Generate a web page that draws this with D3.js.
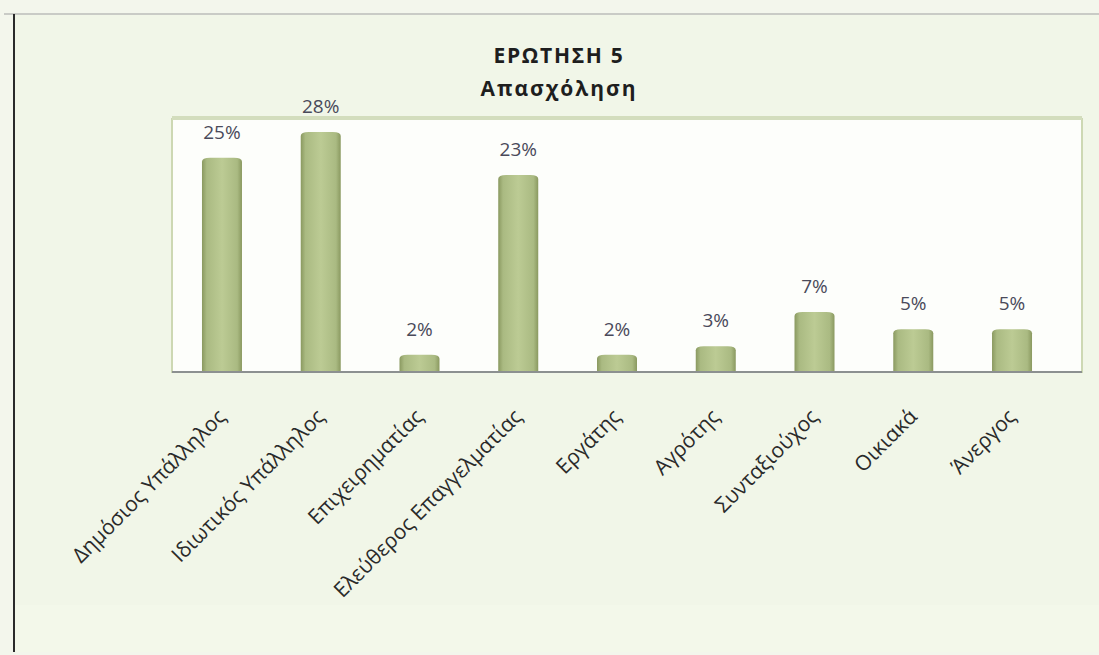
<!DOCTYPE html>
<html>
<head>
<meta charset="utf-8">
<script src="https://cdn.jsdelivr.net/npm/d3@7"></script>
<style>
  body { margin: 0; background: #f4f7ee; }
  svg { display: block; }
</style>
</head>
<body>
<svg id="chart"></svg>
<script>
// data
var categories = ["Δημόσιος Υπάλληλος", "Ιδιωτικός Υπάλληλος", "Επιχειρηματίας",
  "Ελεύθερος Επαγγελματίας", "Εργάτης", "Αγρότης", "Συνταξιούχος", "Οικιακά", "Άνεργος"];
var percents = [25, 28, 2, 23, 2, 3, 7, 5, 5];
var titleLines = ["ΕΡΩΤΗΣΗ 5", "Απασχόληση"];

var svgWidth = 1099, svgHeight = 655;
var plot = {left: 172, right: 1082, top: 119, bottom: 372};

var svg = d3.select("#chart")
  .attr("width", svgWidth)
  .attr("height", svgHeight);

// page background (scanned sheet)
svg.append("rect").attr("width", svgWidth).attr("height", svgHeight).attr("fill", "#f3f6ec");
svg.append("rect").attr("x", 15).attr("y", 15).attr("width", 1084).attr("height", 637).attr("fill", "#f1f6e8");
svg.append("rect").attr("x", 15).attr("y", 605).attr("width", 1084).attr("height", 47).attr("fill", "#f3f8ea");
svg.append("line").attr("x1", 4).attr("x2", 1099).attr("y1", 14).attr("y2", 14)
  .attr("stroke", "#c9cbc6").attr("stroke-width", 2);
svg.append("line").attr("x1", 14).attr("x2", 14).attr("y1", 14).attr("y2", 652)
  .attr("stroke", "#2a2a2a").attr("stroke-width", 2);

// gradient for bars
var defs = svg.append("defs");
var grad = defs.append("linearGradient").attr("id", "barGrad")
  .attr("x1", "0%").attr("x2", "100%").attr("y1", "0%").attr("y2", "0%");
grad.append("stop").attr("offset", "0%").attr("stop-color", "#8a9960");
grad.append("stop").attr("offset", "12%").attr("stop-color", "#aaba82");
grad.append("stop").attr("offset", "50%").attr("stop-color", "#bccb94");
grad.append("stop").attr("offset", "88%").attr("stop-color", "#aaba82");
grad.append("stop").attr("offset", "100%").attr("stop-color", "#8a9960");

// scales
var xScale = d3.scaleBand()
  .range([172.6, 1061.4])
  .domain(categories)
  .paddingInner(0.6)
  .paddingOuter(0.3);

var yScale = d3.scaleLinear()
  .range([plot.bottom, plot.bottom - 30 * 8.57])
  .domain([0, 30]);

// plot area
svg.append("rect")
  .attr("x", plot.left).attr("y", plot.top)
  .attr("width", plot.right - plot.left).attr("height", plot.bottom - plot.top)
  .attr("fill", "#fdfefb")
  .attr("stroke", "#cdd8b3").attr("stroke-width", 2);
svg.append("line")
  .attr("x1", plot.left).attr("x2", plot.right)
  .attr("y1", plot.top - 1).attr("y2", plot.top - 1)
  .attr("stroke", "#d3ddbd").attr("stroke-width", 4);

// title
svg.selectAll(".title")
  .data(titleLines)
  .enter()
  .append("text")
  .attr("class", "title")
  .attr("x", 559)
  .attr("y", function(d, i) { return 63 + i * 33; })
  .attr("text-anchor", "middle")
  .attr("font-family", "Open Sans, sans-serif")
  .attr("font-weight", "bold")
  .attr("font-size", 21)
  .attr("letter-spacing", function(d, i) { return i == 0 ? 1.7 : 2; })
  .attr("fill", "#1e1e1e")
  .text(function(d) { return d; });

// bars with rounded tops
var bw = 40;
svg.selectAll(".bar")
  .data(percents)
  .enter()
  .append("path")
  .attr("class", "bar")
  .attr("d", function(d, i) {
    var cx = xScale(categories[i]) + xScale.bandwidth() / 2;
    var x0 = cx - bw / 2, x1 = cx + bw / 2;
    var y0 = yScale(0), y1 = yScale(d);
    var r = 4;
    return "M" + x0 + "," + y0 + "L" + x0 + "," + (y1 + r) +
      "Q" + x0 + "," + y1 + " " + (x0 + r * 2) + "," + y1 +
      "L" + (x1 - r * 2) + "," + y1 +
      "Q" + x1 + "," + y1 + " " + x1 + "," + (y1 + r) +
      "L" + x1 + "," + y0 + "Z";
  })
  .attr("fill", "url(#barGrad)");

// x-axis line
svg.append("line")
  .attr("x1", plot.left).attr("x2", plot.right)
  .attr("y1", plot.bottom).attr("y2", plot.bottom)
  .attr("stroke", "#8c9090").attr("stroke-width", 2);

// value labels
svg.selectAll(".val")
  .data(percents)
  .enter()
  .append("text")
  .attr("class", "val")
  .attr("x", function(d, i) { return xScale(categories[i]) + xScale.bandwidth() / 2; })
  .attr("y", function(d) { return yScale(d) - 19; })
  .attr("text-anchor", "middle")
  .attr("font-family", "Open Sans, sans-serif")
  .attr("font-size", 19)
  .attr("fill", "#4a4a5a")
  .text(function(d) { return d + "%"; });

// rotated category labels
svg.selectAll(".cat")
  .data(categories)
  .enter()
  .append("text")
  .attr("class", "cat")
  .attr("transform", function(d) {
    var cx = xScale(d) + xScale.bandwidth() / 2;
    return "translate(" + (cx + 5) + "," + 418 + ") rotate(-45)";
  })
  .attr("text-anchor", "end")
  .attr("font-family", "Open Sans, sans-serif")
  .attr("font-size", 21)
  .attr("fill", "#2a2a2a")
  .text(function(d) { return d; });
</script>
</body>
</html>
